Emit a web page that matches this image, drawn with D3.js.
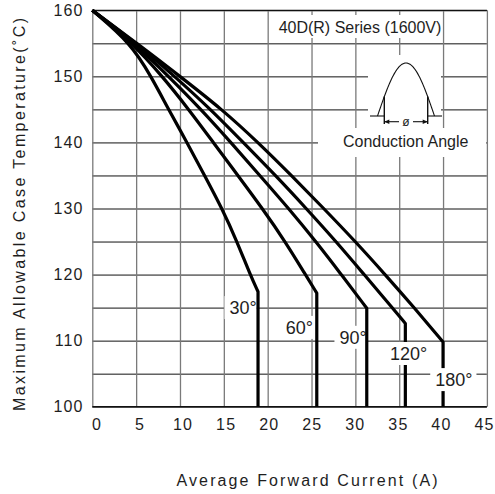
<!DOCTYPE html>
<html>
<head>
<meta charset="utf-8">
<script src="https://cdn.jsdelivr.net/npm/d3@7"></script>
<style>
  html, body { margin: 0; padding: 0; background: #fff; }
  svg { display: block; font-family: "Liberation Sans", Arial, Helvetica, sans-serif; }
</style>
</head>
<body>
<svg id="chart" width="495" height="494"></svg>
<script>
// Case temperature derating, one curve per conduction angle: [average current (A), case temperature (°C)]
const angleNames = ["30°", "60°", "90°", "120°", "180°"];
const curve30  = [[0,160],[4.4,155],[6.7,150],[8.7,145],[10.8,140],[12.8,135],[14.8,130],[16.5,125],[18.0,120],[18.9,117.4]];
const curve60  = [[0,160],[4.6,155],[8.0,150],[11.0,145],[13.8,140],[16.6,135],[19.4,130],[22.0,125],[24.3,120],[25.6,117.2]];
const curve90  = [[0,160],[4.8,155],[8.7,150],[12.4,145],[15.8,140],[19.1,135],[22.4,130],[25.5,125],[28.4,120],[31.3,114.9]];
const curve120 = [[0,160],[5.0,155],[9.4,150],[13.5,145],[17.2,140],[20.9,135],[24.4,130],[27.8,125],[31.0,120],[34.2,115],[35.7,112.6]];
const curve180 = [[0,160],[5.1,155],[10.0,150],[14.8,145],[18.9,140],[22.7,135],[26.4,130],[30.0,125],[33.4,120],[36.7,115],[40.0,109.8]];
const curves = [curve30, curve60, curve90, curve120, curve180];

// Axis ticks
const xTicks = [0, 5, 10, 15, 20, 25, 30, 35, 40, 45];
const yTicks = [100, 105, 110, 115, 120, 125, 130, 135, 140, 145, 150, 155, 160];

const seriesTitle = "40D(R) Series (1600V)";
const insetCaption = "Conduction Angle";
const xTitle = "Average Forward Current (A)";
const yTitle = "Maximum Allowable Case Temperature(˚C)";

// ---- layout ----
const svg = d3.select("#chart");
const x = d3.scaleLinear().domain([0, 45]).range([92.3, 486.9]);
const y = d3.scaleLinear().domain([100, 160]).range([406.7, 10.3]);
const textColor = "#1e1e1e";
const plotW = x(45) - x(0), plotH = y(100) - y(160);

// Horizontal grid (black) with the temperature labels
const yAxis = svg.append("g")
  .attr("transform", `translate(${x(0)},0)`)
  .call(d3.axisLeft(y).tickValues(yTicks).tickSize(-plotW).tickPadding(9)
        .tickFormat(d => d % 10 === 0 ? d : ""));
yAxis.select(".domain").remove();
yAxis.selectAll(".tick line").attr("stroke", "#111").attr("stroke-width", 1);
yAxis.selectAll(".tick text").attr("font-size", 16).attr("fill", textColor)
  .attr("font-family", "Liberation Sans, Arial, sans-serif").attr("letter-spacing", 1);

// Vertical grid (grey) with the current labels
const labelX = d3.scaleLinear().domain([0, 45]).range([96.5, 484]);
const xAxis = svg.append("g")
  .attr("transform", `translate(0,${y(100)})`)
  .call(d3.axisBottom(x).tickValues(xTicks).tickSize(-plotH).tickPadding(12));
xAxis.select(".domain").remove();
xAxis.selectAll(".tick line").attr("stroke", "#7a7a7a").attr("stroke-width", 1.3);
xAxis.selectAll(".tick text").attr("font-size", 16).attr("fill", textColor)
  .attr("font-family", "Liberation Sans, Arial, sans-serif").attr("letter-spacing", 1.2)
  .attr("dx", d => labelX(d) - x(d));

// Plot frame: top and bottom black, sides grey
svg.append("line").attr("x1", x(0)).attr("x2", x(45)).attr("y1", y(160)).attr("y2", y(160))
  .attr("stroke", "#111").attr("stroke-width", 1.2);
svg.append("line").attr("x1", x(0)).attr("x2", x(45)).attr("y1", y(100)).attr("y2", y(100))
  .attr("stroke", "#111").attr("stroke-width", 1.2);

// Axis titles
svg.append("text")
  .attr("x", 307).attr("y", 485.5)
  .attr("text-anchor", "middle").attr("font-size", 16).attr("fill", textColor)
  .attr("textLength", 261).attr("lengthAdjust", "spacing")
  .text(xTitle);
svg.append("text")
  .attr("transform", "translate(24.5,214.5) rotate(-90)")
  .attr("text-anchor", "middle").attr("font-size", 16).attr("fill", textColor)
  .attr("textLength", 393).attr("lengthAdjust", "spacing")
  .text(yTitle);

// Series caption in the top-right cell row
svg.append("rect").attr("x", x(20) + 2).attr("y", 15).attr("width", x(40) - x(20) - 3).attr("height", 23).attr("fill", "#fff");
svg.append("text").attr("x", 360).attr("y", 32.7).attr("text-anchor", "middle")
  .attr("font-size", 16).attr("fill", textColor).text(seriesTitle);

// Conduction angle sketch: half sine wave with the conducting part marked
const inset = svg.append("g");
inset.append("rect").attr("x", 368).attr("y", 55).attr("width", 73).attr("height", 73).attr("fill", "#fff");
inset.append("rect").attr("x", 318).attr("y", 128).attr("width", 168).attr("height", 29).attr("fill", "#fff");
const cx = 406, base = 116, hw = 28.5, amp = 53, cut = 21.7;
const waveY = px => base - amp * Math.sin((px - (cx - hw)) / (2 * hw) * Math.PI);
const wavePts = d3.range(0, 101).map(i => {
  const px = cx - hw + 2 * hw * i / 100;
  return [px, waveY(px)];
});
inset.append("path").attr("d", d3.line()(wavePts)).attr("fill", "none").attr("stroke", "#111").attr("stroke-width", 1.1);
const thin = (x1, y1, x2, y2, w) => inset.append("line").attr("x1", x1).attr("y1", y1).attr("x2", x2).attr("y2", y2)
  .attr("stroke", "#111").attr("stroke-width", w || 1.1);
thin(cx - 36, base, cx - cut, base);
thin(cx + cut, base, cx + 36, base);
thin(cx - cut, waveY(cx - cut), cx - cut, base + 8, 1.4);
thin(cx + cut, waveY(cx + cut), cx + cut, base + 8, 1.4);
const ay = 121.7;
thin(cx - cut, ay, cx - 7, ay);
thin(cx + 7, ay, cx + cut, ay);
inset.append("path").attr("d", `M${cx - cut},${ay} l5,-2.2 l0,4.4 z`).attr("fill", "#111");
inset.append("path").attr("d", `M${cx + cut},${ay} l-5,-2.2 l0,4.4 z`).attr("fill", "#111");
inset.append("text").attr("x", cx).attr("y", ay).attr("dy", "0.35em").attr("text-anchor", "middle")
  .attr("font-size", 12).attr("fill", textColor).text("ø");
inset.append("text").attr("x", 405.7).attr("y", 147.2).attr("text-anchor", "middle")
  .attr("font-size", 16).attr("fill", textColor).text(insetCaption);

// Angle labels: [current, temperature] of the text anchor, drawn on a white patch
const labelSpots = [
  { at: [18.75, 115.0], anchor: "end",    over: false },
  { at: [25.17, 112.0], anchor: "end",    over: false },
  { at: [31.29, 110.5], anchor: "end",    over: false },
  { at: [36.06, 108.05], anchor: "middle", over: true },
  { at: [41.23, 104.1], anchor: "middle", over: true }
];
function drawLabel(i) {
  const s = labelSpots[i];
  const g = svg.append("g");
  const bg = g.append("rect").attr("fill", "#fff");
  const t = g.append("text")
    .attr("x", x(s.at[0])).attr("y", y(s.at[1])).attr("dy", "0.36em")
    .attr("text-anchor", s.anchor).attr("font-size", 18).attr("fill", textColor)
    .text(angleNames[i]);
  const b = t.node().getBBox();
  const padR = s.over ? 4 : 0;
  bg.attr("x", b.x - 5).attr("y", b.y - 2).attr("width", b.width + 5 + padR).attr("height", b.height + 3);
}
labelSpots.forEach((s, i) => { if (!s.over) drawLabel(i); });

// Derating curves: smooth fall to the knee, then a vertical drop at the current limit
const smooth = d3.line().x(d => x(d[0])).y(d => y(d[1])).curve(d3.curveBasis);
curves.forEach(c => {
  const knee = c[c.length - 1];
  svg.append("path")
    .attr("d", smooth(c) + `L${x(knee[0])},${y(100)}`)
    .attr("fill", "none").attr("stroke", "#000").attr("stroke-width", 3.2)
    .attr("stroke-linejoin", "round");
});

labelSpots.forEach((s, i) => { if (s.over) drawLabel(i); });
</script>
</body>
</html>
